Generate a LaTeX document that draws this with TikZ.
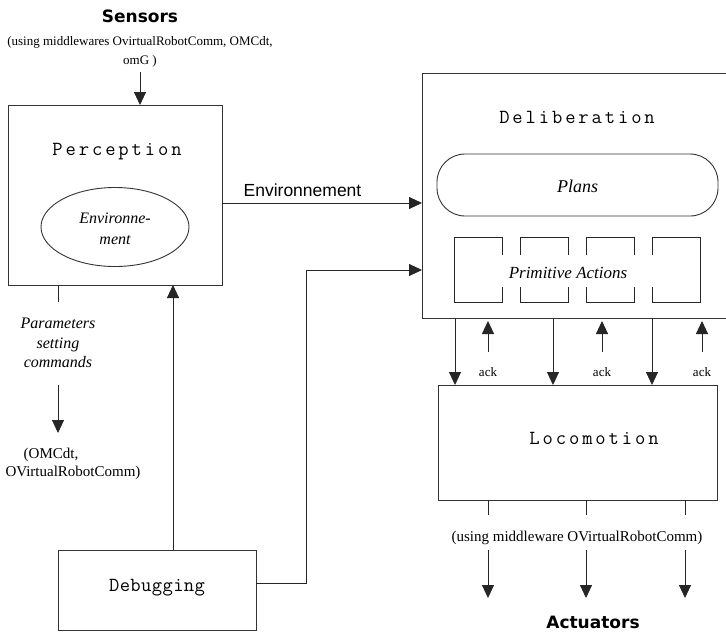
\documentclass[tikz,border=0pt]{standalone}
\usepackage{fontspec}
\setmainfont{Liberation Serif}
\newfontfamily\labsans{Liberation Sans}
\newfontfamily\comicf{DejaVu Sans}
\usetikzlibrary{arrows.meta,shapes.geometric}
\ExplSyntaxOn
\NewDocumentCommand\spacedtxt{mm}{\tl_map_inline:nn {#2} { ##1 \kern #1 } \kern -#1 }
\ExplSyntaxOff
\tikzset{
  x=1pt,y=-1pt,
  ln/.style={line width=0.9pt, draw=black!85},
  arr/.style={ln, -{Triangle[length=13pt,width=12pt]}},
  box/.style={draw=black!80, line width=1pt, inner sep=0pt, outer sep=0pt},
  monolab/.style={inner sep=0pt, font=\fontsize{20}{22}\selectfont\ttfamily},
  ital/.style={inner sep=0pt, font=\fontsize{17}{21}\selectfont\itshape, align=center},
  small/.style={inner sep=0pt, font=\fontsize{15}{18}\selectfont, align=center},
  title/.style={inner sep=0pt, font=\fontsize{17}{20}\selectfont\comicf\bfseries},
  envlab/.style={inner sep=0pt, font=\fontsize{17.5}{20}\selectfont\labsans},
  acklab/.style={inner sep=0pt, font=\fontsize{13}{15}\selectfont},
}
\begin{document}
\begin{tikzpicture}
\path[use as bounding box] (0,0) rectangle (726,635);
\clip (0,0) rectangle (726,635);
\fill[white] (0,0) rectangle (726,635);

% Sensors
\node[title] (sens) at (140,16) {Sensors};
\node[small, font=\fontsize{13}{19}\selectfont] (senssub) at (140,52) {(using middlewares OvirtualRobotComm, OMCdt,\\omG )};

% Perception
\node[box, minimum width=214pt, minimum height=180pt] (perc) at (115,195) {};
\node[monolab] (perct) at (117,152) {\spacedtxt{2.9pt}{Perception}};
\node[draw=black!80, line width=0.9pt, ellipse, minimum width=148pt, minimum height=79pt, inner sep=0pt] (envell) at (115,227) {};
\node[ital, font=\fontsize{16}{21}\selectfont\itshape] (envt) at (115,229) {Environne-\\ment};

% Deliberation
\node[box, minimum width=318pt, minimum height=245pt] (delib) at (581,195.5) {};
\node[monolab] (delibt) at (577,117) {\spacedtxt{2.9pt}{Deliberation}};
\node[draw=black!80, line width=0.9pt, rounded corners=28pt, minimum width=281pt, minimum height=62pt, inner sep=0pt] (plans) at (577.5,185) {};
\node[ital, font=\fontsize{18}{21}\selectfont\itshape] (planst) at (577.5,186) {Plans};
% primitive action boxes
\draw[ln] (502,255) -- (502,237) -- (454,237) -- (454,302) -- (502,302) -- (502,287);
\draw[ln] (520,255) -- (520,237) -- (568,237) -- (568,255);
\draw[ln] (520,287) -- (520,302) -- (568,302) -- (568,287);
\draw[ln] (586,255) -- (586,237) -- (634,237) -- (634,255);
\draw[ln] (586,287) -- (586,302) -- (634,302) -- (634,287);
\draw[ln] (652,255) -- (652,237) -- (700,237) -- (700,302) -- (652,302) -- (652,287);
\node[ital] (primt) at (568,273) {Primitive Actions};

% Locomotion
\node[box, minimum width=279pt, minimum height=115pt] (loco) at (577.5,442.5) {};
\node[monolab] (locot) at (594,438) {\spacedtxt{2.9pt}{Locomotion}};

% Debugging
\node[box, minimum width=198pt, minimum height=80pt] (debug) at (157,590) {};
\node[monolab] (debugt) at (157,588) {\spacedtxt{0.4pt}{Debugging}};

% Sensors -> Perception
\coordinate (s0) at (140,72);
\draw[arr] (s0) -- (s0 |- perc.north);

% Perception -> Deliberation
\coordinate (e0) at (300,203);
\draw[arr] (perc.east |- e0) -- (delib.west |- e0);
\node[envlab] (envlab) at (302.5,190) {Environnement};

% Debugging -> Perception
\coordinate (d0) at (173,500);
\draw[arr] (debug.north -| d0) -- (perc.south -| d0);

% Debugging -> Deliberation
\coordinate (d1) at (306,583);
\coordinate (d2) at (306,270);
\draw[arr] (debug.east |- d1) -- (d1) -- (d2) -- (delib.west |- d2);

% Parameters
\coordinate (p0) at (58,302);
\draw[ln] (perc.south -| p0) -- (p0);
\node[ital, font=\fontsize{16}{19.5}\selectfont\itshape] (paramt) at (58,343) {Parameters\\setting\\commands};
\coordinate (p1) at (58,385);
\coordinate (p2) at (58,433);
\draw[arr] (p1) -- (p2);
\node[small] (pc1) at (51,455) {(OMCdt,};
\node[small] (pc2) at (73,473) {OVirtualRobotComm)};

% Deliberation <-> Locomotion
\foreach \xx in {455,553,652} {
  \coordinate (dn) at (\xx,350);
  \draw[arr] (delib.south -| dn) -- (loco.north -| dn);
}
\foreach \xx/\nm in {488/a1,602/a2,702/a3} {
  \coordinate (up\nm) at (\xx,352);
  \coordinate (upt\nm) at (\xx,321);
  \draw[arr] (up\nm) -- (upt\nm);
  \node[acklab] (ack\nm) at (\xx,372) {ack};
}

% Locomotion -> Actuators
\foreach \xx/\nm in {488/b1,586/b2,685/b3} {
  \coordinate (lo\nm) at (\xx,515);
  \draw[ln] (loco.south -| lo\nm) -- (lo\nm);
  \coordinate (la\nm) at (\xx,550);
  \coordinate (lb\nm) at (\xx,598);
  \draw[arr] (la\nm) -- (lb\nm);
}
\node[small] (locosub) at (577,538) {(using middleware OVirtualRobotComm)};
\node[title] (act) at (593,622) {Actuators};
\end{tikzpicture}
\end{document}
